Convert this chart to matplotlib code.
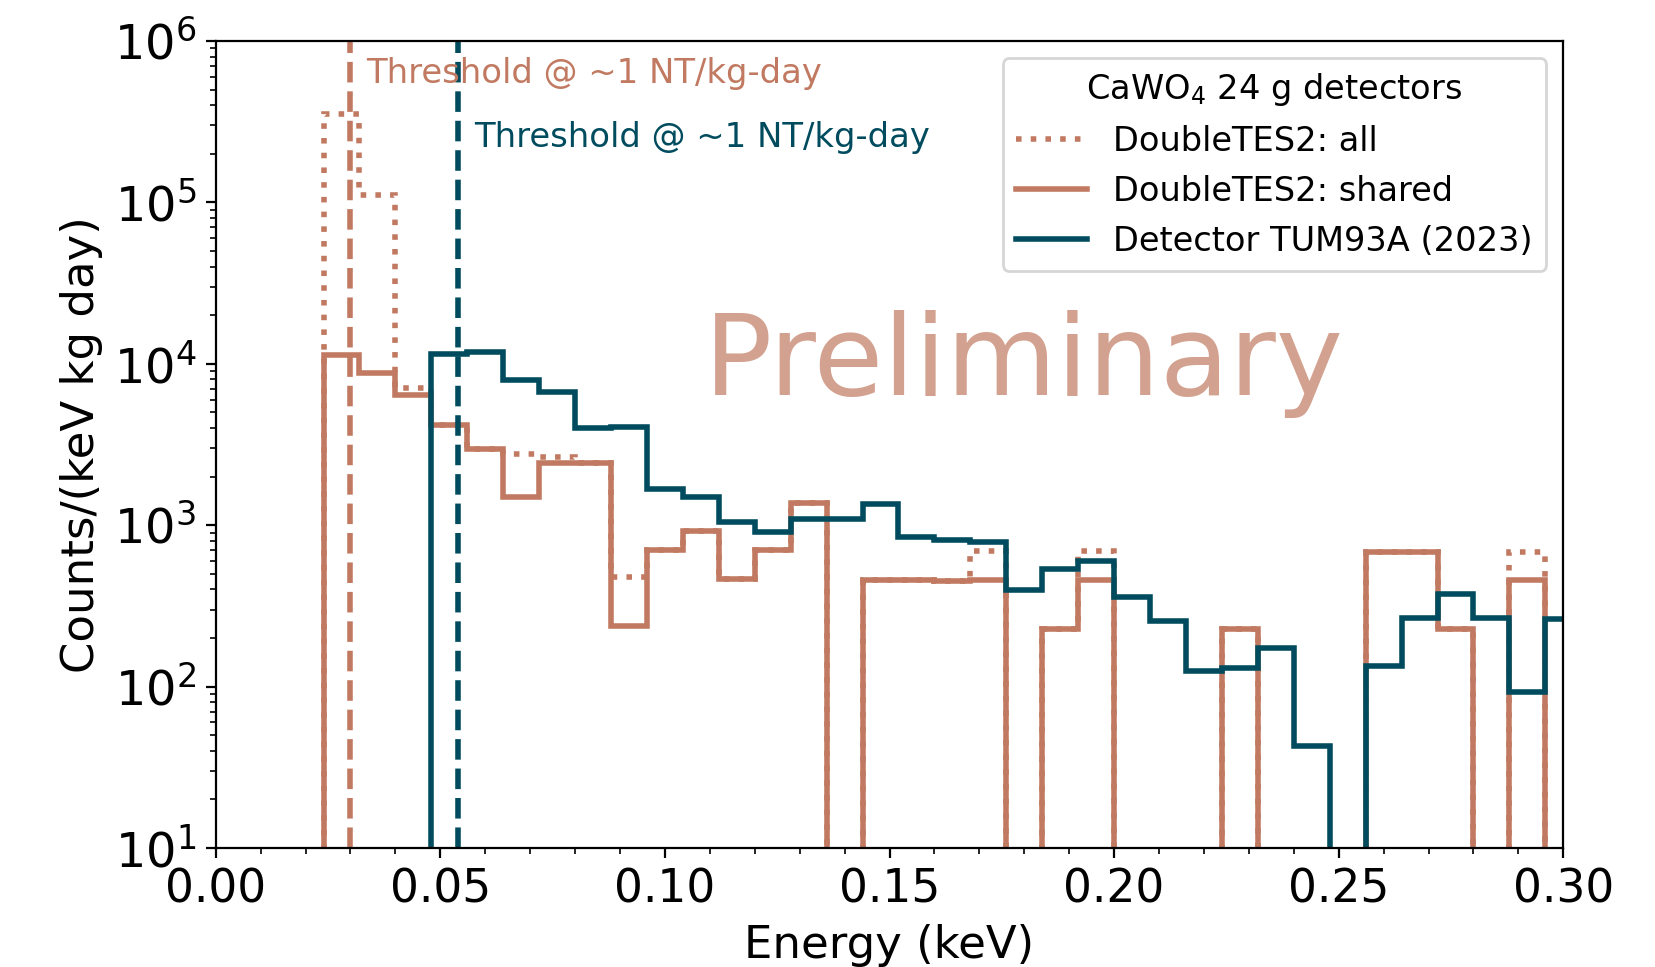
import numpy as np
import matplotlib
matplotlib.use("Agg")
import matplotlib.pyplot as plt
from matplotlib.ticker import MultipleLocator

# Energy binning (keV)
bin_width = 0.008
edges = np.round(np.arange(0, 38 + 1) * bin_width, 3)

# Differential rate, counts/(keV kg day), one value per bin
doubletes2_all = [
    0, 0, 0, 353000, 111000, 7100, 4180, 2950, 2750, 2650,
    2420, 478, 702, 924, 464, 702, 1378, 0, 457, 457,
    452, 692, 0, 226, 690, 0, 0, 0, 226, 0,
    0, 0, 685, 685, 228, 0, 685, 0,
]
doubletes2_shared = [
    0, 0, 0, 11300, 8810, 6410, 4180, 2950, 1500, 2420,
    2420, 237, 702, 924, 464, 702, 1378, 0, 457, 457,
    452, 460, 0, 226, 457, 0, 0, 0, 226, 0,
    0, 0, 685, 685, 228, 0, 457, 0,
]
tum93a_2023 = [
    0, 0, 0, 0, 0, 0, 11460, 11780, 7940, 6720,
    3985, 4045, 1668, 1489, 1051, 904, 1100, 1088, 1353, 841,
    810, 783, 397, 535, 600, 360, 255, 125, 130, 174,
    43, 0, 135, 267, 373, 267, 93, 262,
]

# Thresholds at ~1 NT/kg-day (keV)
threshold_doubletes2 = 0.030
threshold_tum93a = 0.054

orange = "#C17A61"
blue = "#004C5E"

plt.rcParams["font.family"] = ["DejaVu Sans"]
fig = plt.figure(figsize=(16.55 / 2, 9.67 / 2), dpi=200)
ax = fig.add_axes([215.7 / 1655, 1 - 848 / 967, 1347.6 / 1655, 807 / 967])

ax.stairs(doubletes2_all, edges, baseline=0, color=orange, lw=2, ls=":",
          label="DoubleTES2: all")
ax.stairs(doubletes2_shared, edges, baseline=0, color=orange, lw=2,
          label="DoubleTES2: shared")
ax.stairs(tum93a_2023, edges, baseline=0, color=blue, lw=2,
          label="Detector TUM93A (2023)")

ax.axvline(threshold_doubletes2, color=orange, ls="--", lw=2)
ax.axvline(threshold_tum93a, color=blue, ls="--", lw=2)
ax.text(threshold_doubletes2 + 0.0035, 5e5, "Threshold @ ~1 NT/kg-day",
        color=orange, fontsize=12.2, va="bottom", ha="left")
ax.text(threshold_tum93a + 0.0035, 2e5, "Threshold @ ~1 NT/kg-day",
        color=blue, fontsize=12.2, va="bottom", ha="left")

ax.text(0.6, 0.6, "Preliminary", transform=ax.transAxes, fontsize=40.8,
        color=orange, alpha=0.7, ha="center", va="center")

ax.set_yscale("log")
ax.set_xlim(0, 0.3)
ax.set_ylim(10, 1e6)
ax.xaxis.set_minor_locator(MultipleLocator(0.01))
ax.tick_params(axis="x", labelsize=16.4)
ax.tick_params(axis="y", labelsize=17.2)
ax.set_xlabel("Energy (keV)", fontsize=16.2)
ax.set_ylabel("Counts/(keV kg day)", fontsize=16.2)

ax.legend(loc="upper right", fontsize=12.1, title="CaWO$_4$ 24 g detectors",
          title_fontsize=12.1, handlelength=2.1)

fig.savefig("out.png", dpi=200)
